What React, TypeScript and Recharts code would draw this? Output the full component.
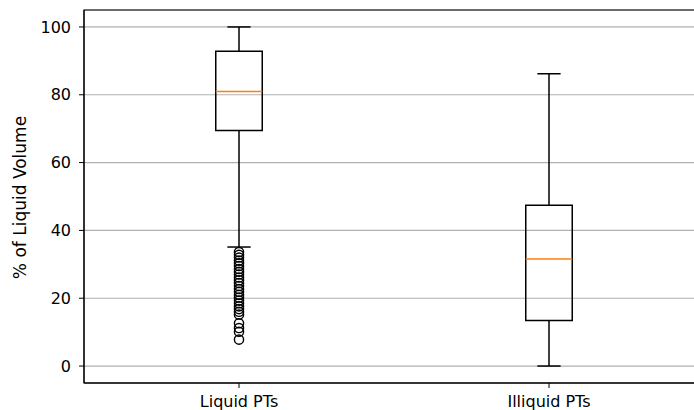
import {
  ComposedChart,
  XAxis,
  YAxis,
  CartesianGrid,
  ReferenceArea,
  ReferenceLine,
  Scatter,
} from "recharts";

// box statistics
const categories = ["Liquid PTs", "Illiquid PTs"];
const positions = [1, 2];
const whiskerLow = [35.1, 0];
const q1 = [69.5, 13.4];
const median = [81.0, 31.6];
const q3 = [92.8, 47.4];
const whiskerHigh = [100, 86.2];

const liquidOutliers = [
  33.6, 32.8, 32.0, 31.1, 30.3, 29.5, 28.6, 27.8, 27.0, 26.1, 25.3, 24.5,
  23.6, 22.7, 21.9, 21.0, 20.2, 19.3, 18.5, 17.6, 16.8, 16.0, 15.2, 12.6,
  11.2, 10.1, 7.8,
];

const yTicks = [0, 20, 40, 60, 80, 100];

const outlierData = liquidOutliers.map((v) => ({ x: positions[0], y: v }));

const BOX_HALF = 0.075;
const CAP_HALF = 0.0375;
const LINE = "#000";
const MEDIAN = "#ff7f0e";
const FONT = "DejaVu Sans, sans-serif";

function YLabel({ viewBox }: any) {
  const cx = viewBox.x + 20;
  const cy = viewBox.y + viewBox.height / 2 + 1;
  return (
    <text
      transform={`translate(${cx}, ${cy}) rotate(-90)`}
      textAnchor="middle"
      dominantBaseline="central"
      fontSize={17}
      fontFamily={FONT}
      fill="#000"
    >
      % of Liquid Volume
    </text>
  );
}

export default function App() {
  const boxes = categories.flatMap((c, i) => {
    const p = positions[i];
    return [
      <ReferenceLine
        key={c + "wl"}
        segment={[{ x: p, y: whiskerLow[i] }, { x: p, y: q1[i] }]}
        stroke={LINE}
        strokeWidth={1.5}
      />,
      <ReferenceLine
        key={c + "wh"}
        segment={[{ x: p, y: q3[i] }, { x: p, y: whiskerHigh[i] }]}
        stroke={LINE}
        strokeWidth={1.5}
      />,
      <ReferenceLine
        key={c + "cl"}
        segment={[{ x: p - CAP_HALF, y: whiskerLow[i] }, { x: p + CAP_HALF, y: whiskerLow[i] }]}
        stroke={LINE}
        strokeWidth={1.5}
      />,
      <ReferenceLine
        key={c + "ch"}
        segment={[{ x: p - CAP_HALF, y: whiskerHigh[i] }, { x: p + CAP_HALF, y: whiskerHigh[i] }]}
        stroke={LINE}
        strokeWidth={1.5}
      />,
      <ReferenceArea
        key={c + "box"}
        x1={p - BOX_HALF}
        x2={p + BOX_HALF}
        y1={q1[i]}
        y2={q3[i]}
        fill="none"
        fillOpacity={0}
        stroke={LINE}
        strokeWidth={1.5}
      />,
      <ReferenceLine
        key={c + "med"}
        segment={[{ x: p - BOX_HALF, y: median[i] }, { x: p + BOX_HALF, y: median[i] }]}
        stroke={MEDIAN}
        strokeWidth={1.5}
      />,
    ];
  });

  // the original figure is cropped on the right, so the plot runs past the edge
  return (
    <div
      style={{
        position: "absolute",
        left: 0,
        top: 0,
        width: 694,
        height: 410,
        overflow: "hidden",
        background: "#fff",
      }}
    >
      <ComposedChart
        width={706}
        height={410}
        margin={{ top: 10, right: 2, bottom: 0, left: 0 }}
        style={{ fontFamily: FONT }}
      >
        <CartesianGrid vertical={false} stroke="#b0b0b0" strokeWidth={1.2} />
        <XAxis
          dataKey="x"
          type="number"
          domain={[0.5, 2.5]}
          ticks={positions}
          tickFormatter={(v: number) => categories[positions.indexOf(v)] ?? ""}
          height={27}
          tickSize={5}
          tickMargin={8}
          tick={{ fontSize: 16, fill: "#000" }}
          stroke={LINE}
          allowDataOverflow
        />
        <YAxis
          dataKey="y"
          type="number"
          domain={[-5, 105]}
          ticks={yTicks}
          width={84}
          tickSize={5}
          tickMargin={8}
          tick={{ fontSize: 16, fill: "#000" }}
          stroke={LINE}
          allowDataOverflow
          label={<YLabel />}
        />
        <ReferenceArea
          x1={0.5}
          x2={2.5}
          y1={-5}
          y2={105}
          fill="none"
          fillOpacity={0}
          stroke={LINE}
          strokeWidth={1.2}
        />
        {boxes}
        <Scatter
          data={outlierData}
          isAnimationActive={false}
          shape={(p: any) => (
            <circle cx={p.cx} cy={p.cy} r={4.6} fill="none" stroke={LINE} strokeWidth={1.4} />
          )}
        />
      </ComposedChart>
    </div>
  );
}
